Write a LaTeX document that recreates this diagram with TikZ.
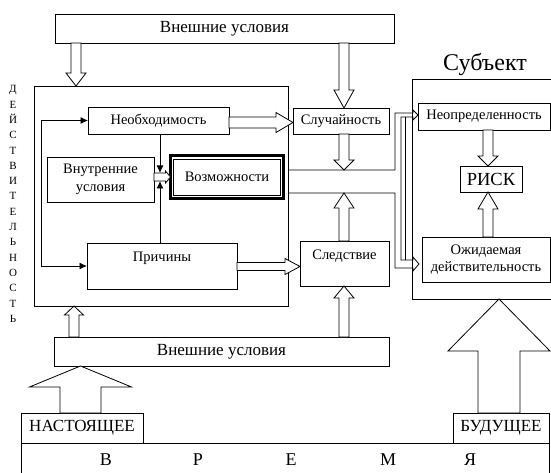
\documentclass[tikz,border=0pt]{standalone}
\usepackage{fontspec}
\setmainfont{Liberation Serif}
\usetikzlibrary{calc,arrows.meta}
\newcommand{\hollowV}[5]{%
  \draw[hollow] let \p1=#1, \p2=#2, \n1={sign(\y2-\y1)} in
    ({\x1-#3},\y1) -- ({\x1-#3},{\y2-(\n1)*(#5)}) -- ({\x1-#4},{\y2-(\n1)*(#5)}) -- (\x1,\y2)
    -- ({\x1+#4},{\y2-(\n1)*(#5)}) -- ({\x1+#3},{\y2-(\n1)*(#5)}) -- ({\x1+#3},\y1) -- cycle;}
\newcommand{\hollowH}[5]{%
  \draw[hollow] let \p1=#1, \p2=#2, \n1={sign(\x2-\x1)} in
    (\x1,{\y1-#3}) -- ({\x2-(\n1)*(#5)},{\y1-#3}) -- ({\x2-(\n1)*(#5)},{\y1-#4}) -- (\x2,\y1)
    -- ({\x2-(\n1)*(#5)},{\y1+#4}) -- ({\x2-(\n1)*(#5)},{\y1+#3}) -- (\x1,{\y1+#3}) -- cycle;}
\begin{document}
\begin{tikzpicture}[x=1pt,y=-1pt,line width=0.8pt,
  box/.style={draw, fill=white, inner sep=0pt, outer sep=0pt, align=center},
  hollow/.style={draw, fill=white, line join=miter},
  sm/.style={font=\fontsize{14.5}{17.5}\selectfont},
  md/.style={font=\fontsize{17}{20}\selectfont},
  lt/.style={font=\fontsize{18}{20}\selectfont},
  tip/.style={-{Latex[length=7.5pt,width=7pt]}},
  dtip/.style={{Latex[length=7.5pt,width=7pt]}-{Latex[length=7.5pt,width=7pt]}},
  band/.style={line join=miter}]
\useasboundingbox (0,0) rectangle (551,473);
% helper coordinates
\coordinate (bT) at (288,170);
\coordinate (bB) at (288,193);
\coordinate (xA) at (76,0);
\coordinate (xB) at (344,0);
\coordinate (xC) at (74,0);
\coordinate (xD) at (80.5,0);
\coordinate (xE) at (499,0);
\coordinate (xF) at (488,0);
\coordinate (yA) at (0,122.5);
\coordinate (yB) at (0,266.5);
\coordinate (yC) at (0,177);
\coordinate (vA) at (160,173);
\coordinate (vB) at (160,181);
\coordinate (fb) at (41,0);
% boxes
\node[box, md, minimum width=339pt, minimum height=29pt] (topv) at (224.5,28.5) {Внешние условия};
\node[box, minimum width=254pt, minimum height=220pt] (big) at (161,196) {};
\node[box, minimum width=148pt, minimum height=220pt] (subj) at (486,189) {};
\node[font=\fontsize{24}{28}\selectfont, inner sep=0pt] (subjt) at (485,65) {Субъект};
\draw[band] (big.east |- bT) -- (395,170) -- (395,113) -- (413,113) -- (413,110) -- (418,115) -- (413,120) -- (413,117) -- (401,117) -- (401,260) -- (413,260) -- (413,257) -- (419,264) -- (413,271) -- (413,268) -- (395,268) -- (395,193) -- (big.east |- bB);
\draw (405,117) -- (405,260);
\node[box, sm, minimum width=141pt, minimum height=27pt] (neobh) at (158.5,120.5) {Необходимость};
\node[box, sm, minimum width=107pt, minimum height=45pt] (vnutr) at (100.5,179.5) {Внутренние\\условия};
\node[box, minimum width=113pt, minimum height=43pt, line width=2.7pt] (vozm) at (227,177.2) {};
\node[box, sm, minimum width=106.4pt, minimum height=36.3pt] (vozmin) at (227,177.3) {Возможности};
\node[box, sm, minimum width=150pt, minimum height=46pt] (prich) at (162,266) {Причины\\\mbox{}};
\node[box, sm, minimum width=96pt, minimum height=26pt] (sluch) at (341,121) {Случайность};
\node[box, sm, minimum width=89pt, minimum height=45pt] (sled) at (344.5,263.5) {Следствие\\\mbox{}};
\node[box, md, minimum width=335pt, minimum height=29pt] (botv) at (221.5,351.5) {Внешние условия};
\node[box, sm, minimum width=132pt, minimum height=27pt] (neopr) at (484,116.5) {Неопределенность};
\node[box, font=\fontsize{18.5}{22}\selectfont, minimum width=62pt, minimum height=26pt] (risk) at (491,179) {РИСК};
\node[box, sm, minimum width=128pt, minimum height=45pt] (ozhid) at (486,259.5) {Ожидаемая\\действительность};
\node[box, md, minimum width=122pt, minimum height=30pt] (nast) at (82,428) {НАСТОЯЩЕЕ};
\node[box, md, minimum width=96pt, minimum height=30pt] (bud) at (501,428) {БУДУЩЕЕ};
\node[box, minimum width=528pt, minimum height=60pt, anchor=north west] (vremya) at (21,443) {};
\node[lt] (lv) at (106,460) {В};
\node[lt] (lr) at (198,460) {Р};
\node[lt] (le) at (291,460) {Е};
\node[lt] (lm) at (388,460) {М};
\node[lt] (lya) at (470,460) {Я};
\node[font=\fontsize{11}{15.3}\selectfont, align=center, inner sep=0pt] (deistv) at (13,204) {Д\\Е\\Й\\С\\Т\\В\\И\\Т\\Е\\Л\\Ь\\Н\\О\\С\\Т\\Ь};
% hollow arrows
\hollowV{(topv.south -| xA)}{(big.north -| xA)}{5pt}{10pt}{13pt}
\hollowV{(topv.south -| xB)}{(sluch.north -| xB)}{5pt}{10pt}{18pt}
\hollowV{(sluch.south -| xB)}{(bT -| xB)}{5pt}{10pt}{10pt}
\hollowV{(sled.north -| xB)}{(bB -| xB)}{5pt}{10pt}{15pt}
\hollowV{(botv.north -| xB)}{(sled.south -| xB)}{5pt}{10pt}{12pt}
\hollowV{(botv.north -| xC)}{(big.south -| xC)}{5pt}{9.5pt}{9pt}
\hollowV{(nast.north -| xD)}{(botv.south -| xD)}{20.5pt}{51pt}{21pt}
\hollowV{(bud.north -| xE)}{(subj.south -| xE)}{21pt}{51pt}{52pt}
\hollowV{(neopr.south -| xF)}{(risk.north -| xF)}{5pt}{10pt}{10pt}
\hollowV{(ozhid.north -| xF)}{(risk.south -| xF)}{5pt}{10pt}{17pt}
\hollowH{(neobh.east |- yA)}{(sluch.west |- yA)}{5.5pt}{10pt}{17pt}
\hollowH{(prich.east |- yB)}{(sled.west |- yB)}{4pt}{8pt}{15pt}
\hollowH{(vnutr.east |- yC)}{(vozm.west |- yC)}{4pt}{6pt}{5pt}
% thin arrows
\draw[tip] (neobh.south -| vA) -- (vA);
\draw[tip] (prich.north -| vB) -- (vB);
\draw[dtip] (neobh.west) -| (fb |- prich.west) -- (prich.west);
\end{tikzpicture}
\end{document}
